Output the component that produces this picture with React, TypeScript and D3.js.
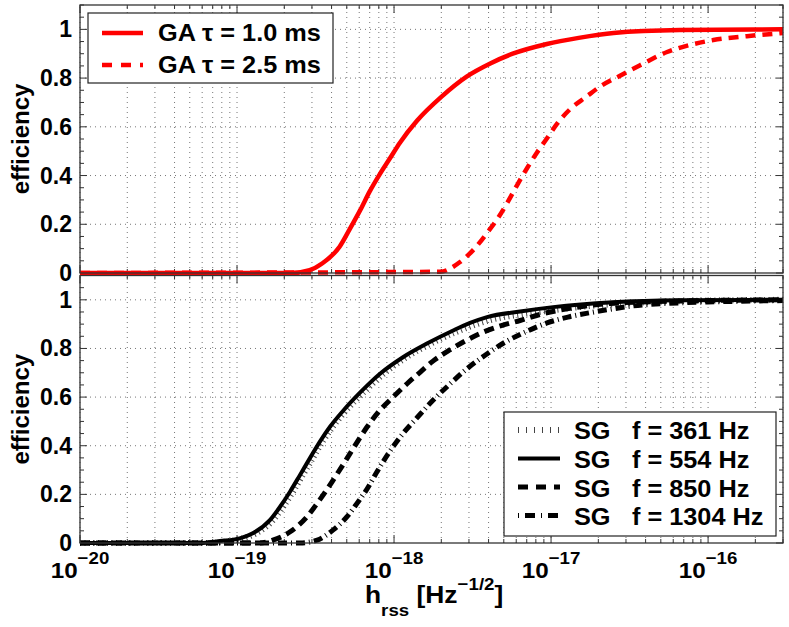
import * as d3 from "d3";
import React from "react";

// GA tau = 1.0 ms (solid red)
const ga10H = [1e-20, 2.2e-19, 2.9e-19, 3.5e-19, 4.5e-19, 5.2e-19, 6.1e-19, 7.0e-19, 8.1e-19, 9.4e-19, 1.09e-18, 1.4e-18, 2.0e-18, 2.9e-18, 4.1e-18, 5.7e-18, 9.4e-18, 1.5e-17, 2.5e-17, 6.6e-17, 3e-16];
const ga10E = [0, 0, 0.012, 0.04, 0.108, 0.178, 0.259, 0.335, 0.405, 0.47, 0.535, 0.625, 0.723, 0.806, 0.86, 0.9, 0.94, 0.965, 0.985, 0.997, 1.0];

// GA tau = 2.5 ms (dashed red)
const ga25H = [1e-20, 1.96e-18, 2.63e-18, 3.19e-18, 3.91e-18, 4.53e-18, 5.25e-18, 6.07e-18, 7.03e-18, 8.14e-18, 9.43e-18, 1.09e-17, 1.32e-17, 1.69e-17, 2.05e-17, 2.75e-17, 3.69e-17, 5.48e-17, 7.68e-17, 1.08e-16, 1.77e-16, 3e-16];
const ga25E = [0, 0.005, 0.045, 0.094, 0.164, 0.22, 0.287, 0.36, 0.43, 0.495, 0.553, 0.612, 0.672, 0.725, 0.765, 0.81, 0.853, 0.907, 0.936, 0.956, 0.972, 0.985];

// SG f = 361 Hz (dotted)
const sg361H = [1e-20, 6.2e-20, 8.5e-20, 1.1e-19, 1.33e-19, 1.7e-19, 1.97e-19, 2.28e-19, 2.63e-19, 3.05e-19, 3.52e-19, 4.08e-19, 4.93e-19, 6.3e-19, 8.5e-19, 1.19e-18, 1.7e-18, 2.5e-18, 3.3e-18, 4.3e-18, 6.5e-18, 1.05e-17, 1.8e-17, 3.0e-17, 7e-17, 3e-16];
const sg361E = [0, 0, 0.006, 0.02, 0.04, 0.094, 0.149, 0.212, 0.28, 0.35, 0.418, 0.478, 0.543, 0.614, 0.693, 0.762, 0.818, 0.868, 0.898, 0.92, 0.94, 0.958, 0.975, 0.985, 0.995, 1.0];

// SG f = 554 Hz (solid black)
const sg554H = [1e-20, 5.8e-20, 7.8e-20, 1.04e-19, 1.26e-19, 1.62e-19, 1.88e-19, 2.18e-19, 2.52e-19, 2.92e-19, 3.38e-19, 3.91e-19, 4.73e-19, 6.07e-19, 8.14e-19, 1.14e-18, 1.62e-18, 2.38e-18, 3.05e-18, 3.91e-18, 6.35e-18, 1.03e-17, 2.48e-17, 6.63e-17, 3e-16];
const sg554E = [0, 0, 0.008, 0.019, 0.04, 0.094, 0.149, 0.212, 0.28, 0.35, 0.418, 0.478, 0.543, 0.618, 0.696, 0.764, 0.82, 0.874, 0.905, 0.929, 0.952, 0.97, 0.99, 0.998, 1.0];

// SG f = 850 Hz (dashed black)
const sg850H = [1e-20, 1.4e-19, 1.69e-19, 2.18e-19, 2.79e-19, 3.24e-19, 3.74e-19, 4.34e-19, 5.02e-19, 5.81e-19, 6.73e-19, 8.14e-19, 9.86e-19, 1.21e-18, 1.47e-18, 1.77e-18, 2.28e-18, 2.92e-18, 3.69e-18, 4.88e-18, 6.35e-18, 8.51e-18, 1.32e-17, 2.38e-17, 6.63e-17, 3e-16];
const sg850E = [0, 0, 0.012, 0.046, 0.108, 0.163, 0.22, 0.284, 0.348, 0.414, 0.477, 0.546, 0.6, 0.655, 0.703, 0.748, 0.795, 0.835, 0.867, 0.895, 0.915, 0.94, 0.965, 0.985, 0.995, 1.0];

// SG f = 1304 Hz (dash-dot black)
const sg1304H = [1e-20, 2.52e-19, 3.24e-19, 4.08e-19, 5.02e-19, 5.81e-19, 6.73e-19, 7.79e-19, 9.43e-19, 1.14e-18, 1.4e-18, 1.77e-18, 2.28e-18, 2.92e-18, 3.8e-18, 5.1e-18, 6.82e-18, 9.43e-18, 1.28e-17, 1.77e-17, 2.48e-17, 3.33e-17, 5.48e-17, 1.14e-16, 3e-16];
const sg1304E = [0, 0, 0.012, 0.053, 0.108, 0.163, 0.222, 0.293, 0.378, 0.45, 0.515, 0.587, 0.655, 0.717, 0.772, 0.826, 0.867, 0.905, 0.929, 0.947, 0.963, 0.975, 0.985, 0.992, 0.997];

const xDecades = [-20, -19, -18, -17, -16];
const yMajor = [0, 0.2, 0.4, 0.6, 0.8, 1];
const yMajorLabels = ["0", "0.2", "0.4", "0.6", "0.8", "1"];

const gaLabels = ["GA \u03c4 = 1.0 ms", "GA \u03c4 = 2.5 ms"];
const sgNames = ["SG", "SG", "SG", "SG"];
const sgFreqs = ["f = 361 Hz", "f = 554 Hz", "f = 850 Hz", "f = 1304 Hz"];

const FONT = "'Liberation Sans', Arial, Helvetica, sans-serif";
const L = 80, R = 783;
const SX = 1.1; // the picture's text is a little wider than Liberation Sans

const x = d3.scaleLog().domain([1e-20, 3e-16]).range([L, R]);
const yTop = d3.scaleLinear().domain([0, 1.1]).range([273, 5]);
const yBot = d3.scaleLinear().domain([0, 1.1]).range([543, 275.5]);

const xMinor: number[] = [];
for (let e = -20; e <= -16; e++) {
  for (let m = 1; m <= 9; m++) {
    const v = m * Math.pow(10, e);
    if (v <= 3e-16) xMinor.push(v);
  }
}
const yMinor = d3.range(0, 1.1001, 0.05);

const pts = (h: number[], e: number[]) => h.map((v, i) => [v, e[i]] as [number, number]);

type Series = { h: number[]; e: number[]; stroke: string; width: number; dash?: string; legendDash?: string };

const topSeries: Series[] = [
  { h: ga10H, e: ga10E, stroke: "#ff0000", width: 4.5 },
  { h: ga25H, e: ga25E, stroke: "#ff0000", width: 4.5, dash: "10 7", legendDash: "10 9" },
];
const botSeries: Series[] = [
  { h: sg361H, e: sg361E, stroke: "#444", width: 6, dash: "1 3.5", legendDash: "1 7" },
  { h: sg554H, e: sg554E, stroke: "#000", width: 4 },
  { h: sg850H, e: sg850E, stroke: "#000", width: 5, dash: "10 6", legendDash: "10 8" },
  { h: sg1304H, e: sg1304E, stroke: "#000", width: 5, dash: "9 4 1 4", legendDash: "1 6 10 6" },
];

const WideText: React.FC<{ x: number; y: number; size: number; anchor?: string; children: React.ReactNode }> = ({ x, y, size, anchor, children }) => (
  <text transform={`translate(${x},${y}) scale(${SX},1)`} textAnchor={anchor} fontSize={size} fontWeight="bold" fontFamily={FONT}>
    {children}
  </text>
);

const Panel: React.FC<{ y: d3.ScaleLinear<number, number>; series: Series[]; labels: boolean }> = ({ y, series, labels }) => {
  const [y0, y1] = y.range();
  const line = d3.line<[number, number]>().x(d => x(d[0])).y(d => y(d[1])).curve(d3.curveMonotoneX);
  return (
    <g>
      {/* grid */}
      {xMinor.map(v => (
        <line key={"gx" + v} x1={x(v)} x2={x(v)} y1={y0} y2={y1} stroke="#666" strokeWidth={0.9} strokeDasharray="1 4" />
      ))}
      {yMajor.slice(1).map(v => (
        <line key={"gy" + v} x1={L} x2={R} y1={y(v)} y2={y(v)} stroke="#666" strokeWidth={0.9} strokeDasharray="1 4" />
      ))}
      {/* ticks */}
      {xMinor.map(v => {
        const major = Math.abs(Math.log10(v) - Math.round(Math.log10(v))) < 1e-6;
        const len = major ? 8 : 4;
        return (
          <g key={"tx" + v} stroke="#333" strokeWidth={1}>
            <line x1={x(v)} x2={x(v)} y1={y0} y2={y0 - len} />
            <line x1={x(v)} x2={x(v)} y1={y1} y2={y1 + len} />
          </g>
        );
      })}
      {yMinor.map(v => {
        const major = Math.abs(v * 5 - Math.round(v * 5)) < 1e-6;
        const len = major ? 7 : 4;
        return (
          <g key={"ty" + v} stroke="#333" strokeWidth={1}>
            <line x1={L} x2={L + len} y1={y(v)} y2={y(v)} />
            <line x1={R} x2={R - len} y1={y(v)} y2={y(v)} />
          </g>
        );
      })}
      {/* curves */}
      {series.map((s, i) => (
        <path key={i} d={line(pts(s.h, s.e))!} fill="none" stroke={s.stroke} strokeWidth={s.width}
          strokeDasharray={s.dash} strokeLinejoin="round" />
      ))}
      <rect x={L} y={y1} width={R - L} height={y0 - y1} fill="none" stroke="#333" strokeWidth={1.3} />
      {/* y tick labels */}
      {yMajor.map((v, i) => (
        <text key={"ly" + v} x={72} y={y(v) + 8} textAnchor="end" fontSize={23} fontWeight="bold" fontFamily={FONT}>
          {yMajorLabels[i]}
        </text>
      ))}
      <text transform={`translate(29, ${(y0 + y1) / 2}) rotate(-90)`} textAnchor="middle" fontSize={24}
        fontWeight="bold" fontFamily={FONT}>efficiency</text>
      {labels && xDecades.map(d => (
        <WideText key={"lx" + d} x={x(Math.pow(10, d))} y={578} anchor="middle" size={22}>
          10<tspan dy={-14} fontSize={17}>{"\u2212" + Math.abs(d)}</tspan>
        </WideText>
      ))}
    </g>
  );
};

const App: React.FC = () => {
  return (
    <svg width={789} height={627} style={{ position: "absolute", left: 0, top: 0, background: "white" }}>
      <Panel y={yTop} series={topSeries} labels={false} />
      <Panel y={yBot} series={botSeries} labels={true} />

      {/* top legend */}
      <rect x={88} y={13} width={245} height={70} fill="white" stroke="#222" strokeWidth={1.2} />
      {topSeries.map((s, i) => (
        <g key={"lt" + i}>
          <line x1={102} x2={143} y1={33 + i * 32} y2={33 + i * 32} stroke={s.stroke} strokeWidth={s.width}
            strokeDasharray={s.legendDash ?? s.dash} />
          <WideText x={158} y={41 + i * 32} size={23}>{gaLabels[i]}</WideText>
        </g>
      ))}

      {/* bottom legend */}
      <rect x={504} y={412} width={272} height={124} fill="white" stroke="#222" strokeWidth={1.2} />
      {botSeries.map((s, i) => (
        <g key={"lb" + i}>
          <line x1={518} x2={560} y1={430 + i * 28.5} y2={430 + i * 28.5} stroke={s.stroke} strokeWidth={s.width}
            strokeDasharray={s.legendDash ?? s.dash} />
          <WideText x={574} y={439 + i * 28.8} size={23}>{sgNames[i]}</WideText>
          <WideText x={632} y={439 + i * 28.8} size={23}>{sgFreqs[i]}</WideText>
        </g>
      ))}

      {/* x label */}
      <WideText x={365} y={603} size={24}>
        h<tspan dy={13} fontSize={17}>rss</tspan>
        <tspan dy={-13}> [Hz</tspan>
        <tspan dy={-13} fontSize={17}>{"\u22121/2"}</tspan>
        <tspan dy={13}>]</tspan>
      </WideText>
    </svg>
  );
};

export default App;
